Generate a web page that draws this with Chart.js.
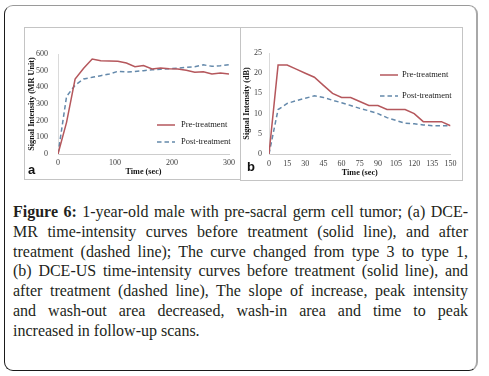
<!DOCTYPE html>
<html><head><meta charset="utf-8">
<script src="https://cdn.jsdelivr.net/npm/chart.js@4.4.1/dist/chart.umd.min.js"></script>
<style>
html,body{margin:0;padding:0;background:#fff;width:489px;height:376px;overflow:hidden;}
#frame{position:absolute;left:4px;top:5px;width:474px;height:366px;box-sizing:border-box;border:1px solid #9a9a9a;border-left-color:#1a1a1a;border-bottom-color:#1a1a1a;border-right:2px solid #a8a8a8;border-radius:9px;}
.panel{position:absolute;border:1px solid #c4c4c4;box-sizing:border-box;pointer-events:none}
canvas{position:absolute}
.tag{position:absolute;font:bold 13px "Liberation Sans",Arial,sans-serif;color:#111;line-height:13px}
#cap{position:absolute;left:13px;top:202px;width:455px;font-family:"Liberation Serif",serif;font-size:16px;line-height:19.83px;color:#231f20}
#cap div{text-align:justify;text-align-last:justify}
#cap div.last{text-align:left;text-align-last:left}
</style></head>
<body>
<div id="frame"></div>
<canvas id="ca" width="216" height="152" style="left:24px;top:27px"></canvas>
<canvas id="cb" width="221" height="153" style="left:241px;top:27px"></canvas>
<div class="panel" style="left:24px;top:27px;width:217px;height:153px"></div>
<div class="panel" style="left:240px;top:27px;width:223px;height:154px"></div>
<div class="tag" style="left:28px;top:163px">a</div>
<div class="tag" style="left:247px;top:160px">b</div>
<div id="cap">
<div><b>Figure 6:</b> 1-year-old male with pre-sacral germ cell tumor; (a) DCE-</div>
<div>MR time-intensity curves before treatment (solid line), and after</div>
<div>treatment (dashed line); The curve changed from type 3 to type 1,</div>
<div>(b) DCE-US time-intensity curves before treatment (solid line), and</div>
<div>after treatment (dashed line), The slope of increase, peak intensity</div>
<div>and wash-out area decreased, wash-in area and time to peak</div>
<div class="last">increased in follow-up scans.</div>
</div>
<script>
// ---- Data: panel (a) DCE-MR ----
const timesA = [0,15,30,45,60,75,90,105,120,135,150,165,180,195,210,225,240,255,270,285,300];
const preA   = [0,190,450,515,570,560,558,556,546,524,531,510,516,512,510,502,490,493,480,486,480];
const postA  = [0,345,413,450,460,470,480,496,492,495,500,505,508,512,514,520,524,535,526,530,536];
const xTicksA = [0,100,200,300];
const yTicksA = [0,100,200,300,400,500,600];
// ---- Data: panel (b) DCE-US ----
const timesB = [0,7.5,15,22.5,30,37.5,45,52.5,60,67.5,75,82.5,90,97.5,105,112.5,120,127.5,135,142.5,150];
const preB   = [0,22,22,21,20,19,17,15,14,14,13,12,12,11,11,11,10,8,8,8,7];
const postB  = [0,11,12.5,13.2,13.8,14.4,14,13.3,12.7,12,11.3,10.7,10,9,8.3,7.6,7.5,7.2,7,7,7];
const xTicksB = [0,15,30,45,60,75,90,105,120,135,150];
const yTicksB = [0,5,10,15,20,25];

const seriesLabels = ['Pre-treatment','Post-treatment'];
const xTitle = 'Time (sec)';
const yTitleA = 'Signal Intensity (MR Unit)';
const yTitleB = 'Signal Intensity (dB)';

const SERIF = '"Liberation Serif","Times New Roman",serif';
const PRE_COLOR = '#b5575c';
const POST_COLOR = '#6489ab';

const insetLegend = {
  id:'insetLegend',
  afterDraw(chart, args, o){
    const ctx = chart.ctx;
    chart.data.datasets.forEach((ds,i)=>{
      const y = o.ys[i];
      ctx.save();
      ctx.strokeStyle = ds.borderColor; ctx.lineWidth = ds.borderWidth;
      ctx.setLineDash(ds.borderDash || []);
      ctx.beginPath(); ctx.moveTo(o.x, y); ctx.lineTo(o.x + o.len, y); ctx.stroke();
      ctx.setLineDash([]);
      ctx.fillStyle = '#222'; ctx.font = '8.5px ' + SERIF; ctx.textBaseline = 'middle';
      ctx.fillText(ds.label, o.x + o.len + o.gap, y);
      ctx.restore();
    });
  }
};

function pts(t, v){ return t.map((x,i)=>({x:x, y:v[i]})); }

function makeChart(id, times, pre, post, xTicks, yTicks, cfg){
  const tickFont = {family:SERIF, size:8};
  const titleFont = {family:SERIF, size:8.2, weight:'bold'};
  return new Chart(document.getElementById(id), {
    type:'line',
    data:{datasets:[
      {label:seriesLabels[0], data:pts(times,pre), borderColor:PRE_COLOR, borderWidth:1.5, pointRadius:0, tension:0, fill:false},
      {label:seriesLabels[1], data:pts(times,post), borderColor:POST_COLOR, borderWidth:1.5, borderDash:[4.5,3], pointRadius:0, tension:0, fill:false}
    ]},
    options:{
      responsive:false, animation:false, devicePixelRatio:1,
      layout:{padding:cfg.pad},
      plugins:{legend:{display:false}, tooltip:{enabled:false}, insetLegend:cfg.legend},
      scales:{
        x:{type:'linear', min:xTicks[0], max:xTicks[xTicks.length-1],
           afterBuildTicks:s=>{ s.ticks = xTicks.map(v=>({value:v})); },
           ticks:{font:tickFont, color:'#404040', padding:cfg.xpad, maxRotation:0, autoSkip:false},
           grid:{display:false, drawTicks:false, tickLength:0}, border:{display:true, color:'#cdcdcd', width:1},
           title:{display:true, text:xTitle, font:titleFont, color:'#111', padding:{top:0,bottom:cfg.xtpb}},
           afterFit:s=>{s.height = cfg.xh;}},
        y:{type:'linear', min:yTicks[0], max:yTicks[yTicks.length-1],
           afterBuildTicks:s=>{ s.ticks = yTicks.map(v=>({value:v})); },
           ticks:{font:tickFont, color:'#404040', padding:cfg.ypad, autoSkip:false},
           grid:{display:false, drawTicks:false, tickLength:0}, border:{display:true, color:'#dadada', width:1},
           title:{display:true, text:cfg.ytitle, font:titleFont, color:'#111', padding:{top:cfg.ytpt,bottom:0}},
           afterFit:s=>{s.width = cfg.yw;}}
      }
    },
    plugins:[insetLegend]
  });
}

makeChart('ca', timesA, preA, postA, xTicksA, yTicksA, {
  pad:{left:0,right:11,top:27,bottom:0},
  xpad:4, xtpb:2, xh:25, ypad:10, ytpt:3.3, yw:34, ytitle:yTitleA,
  legend:{x:133, len:18, gap:6, ys:[98,115]}
});
makeChart('cb', timesB, preB, postB, xTicksB, yTicksB, {
  pad:{left:0,right:9,top:26,bottom:0},
  xpad:5.5, xtpb:1.7, xh:26, ypad:7, ytpt:1, yw:28, ytitle:yTitleB,
  legend:{x:139, len:18, gap:4, ys:[48,69]}
});
</script>
</body></html>
